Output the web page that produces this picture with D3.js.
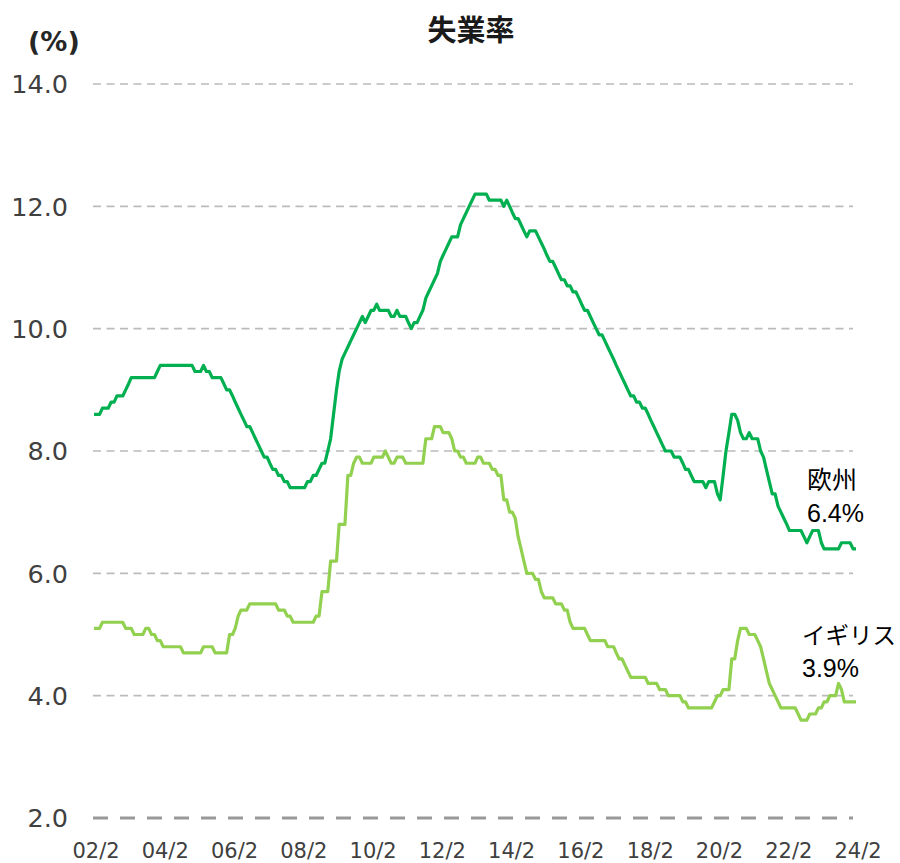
<!DOCTYPE html>
<html>
<head>
<meta charset="utf-8">
<script src="https://cdn.jsdelivr.net/npm/d3@7"></script>
<style>
  body { margin: 0; background: #fff; }
  svg { display: block; }
</style>
</head>
<body>
<script>
// monthly unemployment rate (%), 2002/2 .. 2024/2
var startYear = 2002, startMonth = 2;

var euro = [
  8.6, 8.6, 8.6, 8.7, 8.7, 8.7, 8.8, 8.8, 8.9, 8.9, 8.9, 9.0,
  9.1, 9.2, 9.2, 9.2, 9.2, 9.2, 9.2, 9.2, 9.2, 9.2, 9.3, 9.4,
  9.4, 9.4, 9.4, 9.4, 9.4, 9.4, 9.4, 9.4, 9.4, 9.4, 9.4, 9.3,
  9.3, 9.3, 9.4, 9.3, 9.3, 9.2, 9.2, 9.2, 9.2, 9.1, 9.0, 9.0,
  8.9, 8.8, 8.7, 8.6, 8.5, 8.4, 8.4, 8.3, 8.2, 8.1, 8.0, 7.9,
  7.9, 7.8, 7.7, 7.7, 7.6, 7.6, 7.5, 7.5, 7.4, 7.4, 7.4, 7.4,
  7.4, 7.4, 7.5, 7.5, 7.6, 7.6, 7.7, 7.8, 7.8, 8.0, 8.2, 8.6,
  9.0, 9.3, 9.5, 9.6, 9.7, 9.8, 9.9, 10.0, 10.1, 10.2, 10.1, 10.2,
  10.3, 10.3, 10.4, 10.3, 10.3, 10.3, 10.3, 10.2, 10.2, 10.3, 10.2, 10.2,
  10.2, 10.1, 10.0, 10.1, 10.1, 10.2, 10.3, 10.5, 10.6, 10.7, 10.8, 10.9,
  11.1, 11.2, 11.3, 11.4, 11.5, 11.5, 11.5, 11.7, 11.8, 11.9, 12.0, 12.1,
  12.2, 12.2, 12.2, 12.2, 12.2, 12.1, 12.1, 12.1, 12.1, 12.1, 12.0, 12.1,
  12.0, 11.9, 11.8, 11.8, 11.7, 11.6, 11.5, 11.6, 11.6, 11.6, 11.5, 11.4,
  11.3, 11.2, 11.1, 11.1, 11.0, 10.9, 10.8, 10.8, 10.7, 10.7, 10.6, 10.6,
  10.5, 10.4, 10.3, 10.3, 10.2, 10.1, 10.0, 9.9, 9.9, 9.8, 9.7, 9.6,
  9.5, 9.4, 9.3, 9.2, 9.1, 9.0, 8.9, 8.9, 8.8, 8.8, 8.7, 8.7,
  8.6, 8.5, 8.4, 8.3, 8.2, 8.1, 8.0, 8.0, 8.0, 7.9, 7.9, 7.9,
  7.8, 7.7, 7.7, 7.6, 7.5, 7.5, 7.5, 7.5, 7.4, 7.5, 7.5, 7.5,
  7.3, 7.2, 7.6, 8.0, 8.3, 8.6, 8.6, 8.5, 8.3, 8.2, 8.2, 8.3,
  8.2, 8.2, 8.2, 8.0, 7.9, 7.7, 7.5, 7.3, 7.3, 7.1, 7.0, 6.9,
  6.8, 6.7, 6.7, 6.7, 6.7, 6.7, 6.6, 6.5, 6.6, 6.7, 6.7, 6.7,
  6.5, 6.4, 6.4, 6.4, 6.4, 6.4, 6.4, 6.5, 6.5, 6.5, 6.5, 6.4,
  6.4
];

var uk = [
  5.1, 5.1, 5.1, 5.2, 5.2, 5.2, 5.2, 5.2, 5.2, 5.2, 5.2, 5.1,
  5.1, 5.1, 5.0, 5.0, 5.0, 5.0, 5.1, 5.1, 5.0, 5.0, 4.9, 4.9,
  4.8, 4.8, 4.8, 4.8, 4.8, 4.8, 4.8, 4.7, 4.7, 4.7, 4.7, 4.7,
  4.7, 4.7, 4.8, 4.8, 4.8, 4.8, 4.7, 4.7, 4.7, 4.7, 4.7, 5.0,
  5.0, 5.1, 5.3, 5.4, 5.4, 5.4, 5.5, 5.5, 5.5, 5.5, 5.5, 5.5,
  5.5, 5.5, 5.5, 5.5, 5.4, 5.4, 5.4, 5.3, 5.3, 5.2, 5.2, 5.2,
  5.2, 5.2, 5.2, 5.2, 5.2, 5.3, 5.3, 5.7, 5.7, 5.7, 6.2, 6.2,
  6.2, 6.8, 6.8, 6.8, 7.6, 7.6, 7.8, 7.9, 7.9, 7.8, 7.8, 7.8,
  7.8, 7.9, 7.9, 7.9, 7.9, 8.0, 7.9, 7.8, 7.8, 7.9, 7.9, 7.9,
  7.8, 7.8, 7.8, 7.8, 7.8, 7.8, 7.8, 8.2, 8.2, 8.2, 8.4, 8.4,
  8.4, 8.3, 8.3, 8.3, 8.2, 8.0, 8.0, 7.9, 7.9, 7.8, 7.8, 7.8,
  7.8, 7.9, 7.9, 7.8, 7.8, 7.8, 7.7, 7.7, 7.6, 7.6, 7.2, 7.2,
  7.0, 7.0, 6.9, 6.6, 6.4, 6.2, 6.0, 6.0, 6.0, 5.9, 5.9, 5.7,
  5.6, 5.6, 5.6, 5.6, 5.5, 5.5, 5.5, 5.4, 5.4, 5.2, 5.1, 5.1,
  5.1, 5.1, 5.1, 5.0, 4.9, 4.9, 4.9, 4.9, 4.9, 4.9, 4.8, 4.8,
  4.8, 4.7, 4.6, 4.6, 4.5, 4.4, 4.3, 4.3, 4.3, 4.3, 4.3, 4.3,
  4.2, 4.2, 4.2, 4.2, 4.1, 4.1, 4.1, 4.0, 4.0, 4.0, 4.0, 4.0,
  3.9, 3.9, 3.8, 3.8, 3.8, 3.8, 3.8, 3.8, 3.8, 3.8, 3.8, 3.9,
  4.0, 4.0, 4.1, 4.1, 4.1, 4.6, 4.6, 4.9, 5.1, 5.1, 5.1, 5.0,
  5.0, 5.0, 4.9, 4.8, 4.6, 4.4, 4.2, 4.1, 4.0, 3.9, 3.8, 3.8,
  3.8, 3.8, 3.8, 3.8, 3.7, 3.6, 3.6, 3.6, 3.7, 3.7, 3.7, 3.8,
  3.8, 3.9, 3.9, 4.0, 4.0, 4.0, 4.2, 4.1, 3.9, 3.9, 3.9, 3.9,
  3.9
];

var yTicks = [2, 4, 6, 8, 10, 12, 14];
var seriesNames = ["欧州", "イギリス"];
var lastLabels = ["6.4%", "3.9%"];

var width = 900, height = 863;
var margin = {top: 84, right: 44, bottom: 45, left: 94};

var dates = euro.map(function(d, i) { return new Date(startYear, startMonth - 1 + i, 1); });

var x = d3.scaleTime()
    .domain([dates[0], dates[dates.length - 1]])
    .range([margin.left, width - margin.right]);
var y = d3.scaleLinear()
    .domain([2, 14])
    .range([height - margin.bottom, margin.top]);

var svg = d3.select("body").append("svg")
    .attr("width", width)
    .attr("height", height);

// grid lines
svg.append("g").selectAll("line")
    .data(yTicks)
  .enter().append("line")
    .attr("x1", margin.left - 1)
    .attr("x2", 853)
    .attr("y1", function(d) { return y(d); })
    .attr("y2", function(d) { return y(d); })
    .attr("stroke", function(d) { return d === 2 ? "#999" : "#bbb"; })
    .attr("stroke-width", function(d) { return d === 2 ? 3 : 1.6; })
    .attr("stroke-dasharray", function(d) { return d === 2 ? "15,12" : "8,5.5"; });

// y labels
svg.append("g").selectAll("text")
    .data(yTicks)
  .enter().append("text")
    .attr("x", 68)
    .attr("y", function(d) { return y(d); })
    .attr("dy", "0.36em")
    .attr("text-anchor", "end")
    .attr("font-family", "DejaVu Sans")
    .attr("font-size", 25.5)
    .attr("fill", "#404040")
    .text(function(d) { return d.toFixed(1); });

// x labels every 2 years
var xTicks = dates.filter(function(d, i) { return i % 24 === 0; });
svg.append("g").selectAll("text")
    .data(xTicks)
  .enter().append("text")
    .attr("x", function(d) { return x(d) + 2; })
    .attr("y", 858)
    .attr("text-anchor", "middle")
    .attr("font-family", "DejaVu Sans")
    .attr("font-size", 21)
    .attr("fill", "#404040")
    .text(function(d) { return d3.timeFormat("%y")(d) + "/" + (d.getMonth() + 1); });

// lines
var line = d3.line()
    .x(function(d, i) { return x(dates[i]); })
    .y(function(d) { return y(d); });

svg.append("path")
    .datum(uk)
    .attr("fill", "none")
    .attr("stroke", "#92D050")
    .attr("stroke-width", 3.2)
    .attr("stroke-linejoin", "round")
    .attr("d", line);

svg.append("path")
    .datum(euro)
    .attr("fill", "none")
    .attr("stroke", "#00B050")
    .attr("stroke-width", 3.2)
    .attr("stroke-linejoin", "round")
    .attr("d", line);

// title and unit
svg.append("text")
    .attr("x", 471)
    .attr("y", 41)
    .attr("text-anchor", "middle")
    .attr("font-family", "Noto Sans CJK JP")
    .attr("font-weight", "bold")
    .attr("font-size", 29)
    .attr("fill", "#1a1a1a")
    .text("失業率");

svg.append("text")
    .attr("x", 28)
    .attr("y", 51)
    .attr("font-family", "DejaVu Sans")
    .attr("font-weight", "bold")
    .attr("font-size", 27)
    .attr("fill", "#262626")
    .text("(%)");

// end labels
var labelPos = [{x: 807, y: 489}, {x: 802, y: 644}];
seriesNames.forEach(function(name, k) {
  var t = svg.append("text")
      .attr("x", labelPos[k].x)
      .attr("y", labelPos[k].y)
      .attr("font-family", "Liberation Sans, Noto Sans CJK JP")
      .attr("font-size", 25)
      .attr("fill", "#000");
  t.append("tspan")
      .attr("font-size", k === 1 ? 23.5 : 25)
      .text(name);
  t.append("tspan")
      .attr("x", labelPos[k].x)
      .attr("dy", 33)
      .text(lastLabels[k]);
});
</script>
</body>
</html>
